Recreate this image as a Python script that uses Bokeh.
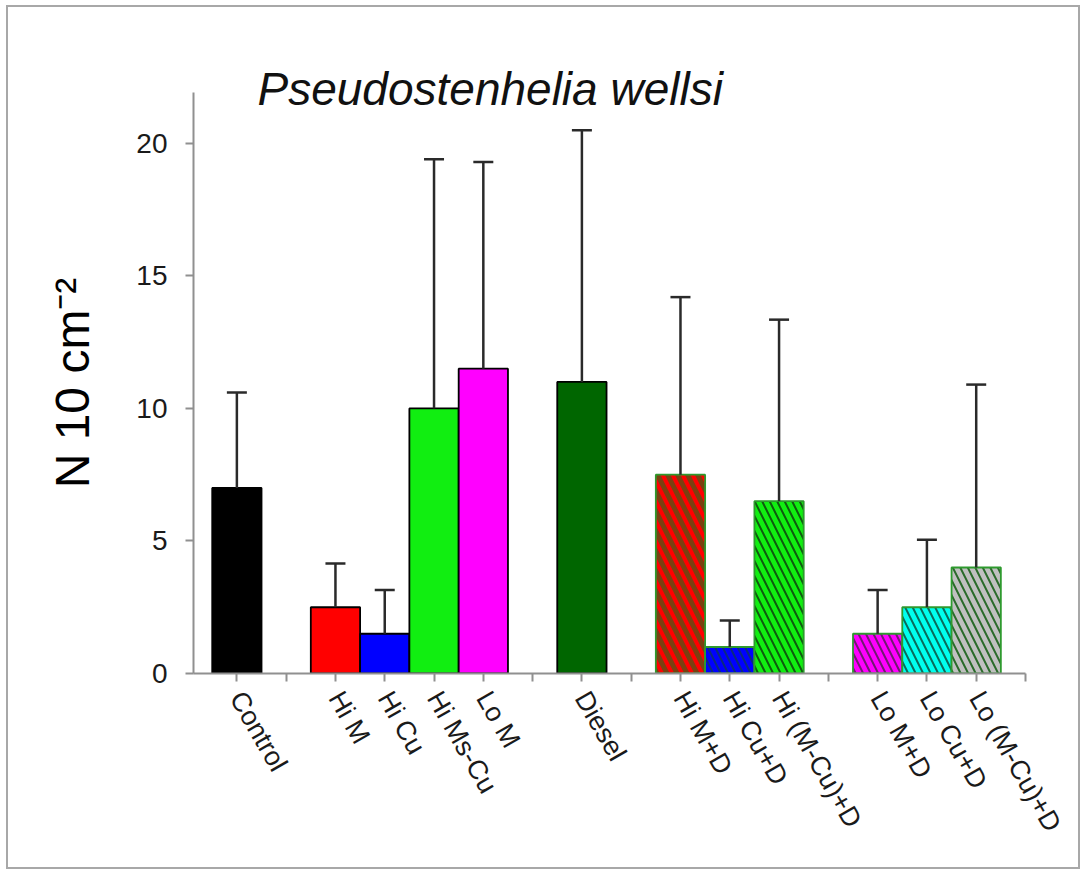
from bokeh.plotting import figure
from bokeh.models import ColumnDataSource, FixedTicker, Whisker, TeeHead, Range1d
from bokeh.embed import file_html
from bokeh.resources import INLINE

# ---- data ----
categories = ["Control", "Hi M", "Hi Cu", "Hi Ms-Cu", "Lo M", "Diesel",
              "Hi M+D", "Hi Cu+D", "Hi (M-Cu)+D", "Lo M+D", "Lo Cu+D", "Lo (M-Cu)+D"]
slots = [0, 2, 3, 4, 5, 7, 9, 10, 11, 13, 14, 15]
means = [7.0, 2.5, 1.5, 10.0, 11.5, 11.0, 7.5, 1.0, 6.5, 1.5, 2.5, 4.0]
upper_err = [3.6, 1.65, 1.65, 9.4, 7.8, 9.5, 6.7, 1.0, 6.85, 1.65, 2.55, 6.9]
fill_colors = ["#000000", "#ff0000", "#0000ff", "#11ee11", "#ff00ff", "#006600",
               "#ff0000", "#0000ff", "#11ee11", "#ff00ff", "#00ffee", "#c0c0c0"]
line_colors = ["#000000", "#000000", "#000000", "#000000", "#000000", "#000000",
               "#2e9a2e", "#2e9a2e", "#2e9a2e", "#2e9a2e", "#2e9a2e", "#2e9a2e"]
hatch_patterns = [" ", " ", " ", " ", " ", " ", "\\", "\\", "\\", "\\", "\\", "\\"]
hatch_colors = ["#000000", "#000000", "#000000", "#000000", "#000000", "#000000",
                "#7a4010", "#0a2a80", "#0e5a0e", "#701a70", "#0a6a5a", "#2a6a2a"]
hatch_weights = [1, 1, 1, 1, 1, 1, 5, 2, 2, 2, 2, 2]
hatch_scales = [14, 14, 14, 14, 14, 14, 20, 15, 15, 15, 15, 15]
y_ticks = [0, 5, 10, 15, 20]
n_slots = 16
title_text = "Pseudostenhelia wellsi"

upper = [m + e for m, e in zip(means, upper_err)]
src = ColumnDataSource(dict(x=slots, top=means, upper=upper, fill=fill_colors,
                            line=line_colors, hp=hatch_patterns, hc=hatch_colors,
                            hw=hatch_weights, hs=hatch_scales))

p = figure(width=1074, height=864, output_backend="svg", toolbar_location=None,
           x_range=Range1d(-0.88, n_slots), y_range=Range1d(0, 21.92),
           min_border_left=185, min_border_right=57, min_border_top=85, min_border_bottom=198)
p.styles = {"border": "2px solid #a8a8a8", "margin-left": "6px", "margin-top": "5px"}
p.xgrid.visible = False
p.ygrid.visible = False
p.outline_line_color = None
p.background_fill_color = "white"
p.border_fill_color = "white"

font = "Liberation Sans"
p.title.text = title_text
p.title_location = "above"
p.title.align = "left"
p.title.offset = 64
p.title.standoff = -44
p.title.text_font = font
p.title.text_font_size = "46px"
p.title.text_font_style = "italic"
p.title.text_color = "#111111"

p.vbar(x="x", top="top", bottom=0, width=1.0, source=src,
       fill_color="fill", line_color="line", line_width=1.8,
       hatch_pattern="hp", hatch_color="hc", hatch_weight="hw", hatch_scale="hs")

w = Whisker(source=src, base="x", lower="top", upper="upper", dimension="height",
            line_color="#2a2a2a", line_width=2.5,
            upper_head=TeeHead(size=20, line_color="#2a2a2a", line_width=2.5),
            lower_head=None, level="glyph")
p.add_layout(w)

# axes
for ax in (p.xaxis[0], p.yaxis[0]):
    ax.axis_line_color = "#909090"
    ax.axis_line_width = 2
    ax.major_tick_line_color = "#909090"
    ax.major_tick_line_width = 2
    ax.major_tick_out = 8
    ax.major_tick_in = 0
    ax.minor_tick_line_color = None
    ax.major_label_text_font = font
    ax.major_label_text_color = "#1a1a1a"

p.yaxis.ticker = FixedTicker(ticks=y_ticks)
p.yaxis.major_label_text_font_size = "28px"
p.yaxis.major_label_standoff = 18
p.yaxis.axis_label = "N 10 cm\u207b\u00b2"
p.yaxis.axis_label_text_font = font
p.yaxis.axis_label_text_font_size = "48px"
p.yaxis.axis_label_text_font_style = "normal"
p.yaxis.axis_label_text_color = "#000000"
p.yaxis.axis_label_standoff = 34

p.xaxis.ticker = FixedTicker(ticks=list(range(n_slots + 1)))
overrides = {i: "" for i in range(n_slots + 1)}
for s, c in zip(slots, categories):
    overrides[s] = c
p.xaxis.major_label_overrides = overrides
p.xaxis.major_label_text_font_size = "27px"
p.xaxis.major_label_orientation = -1.05
p.xaxis.major_label_standoff = 12

open("out.html", "w").write(file_html(p, INLINE))
